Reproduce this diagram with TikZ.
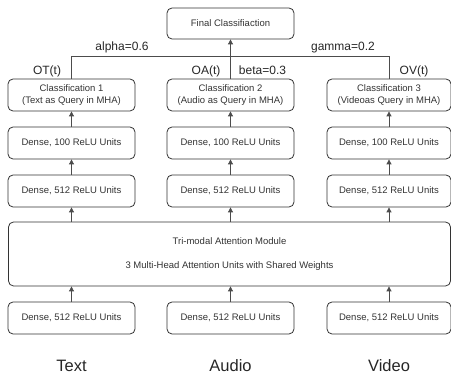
\documentclass[tikz,border=0pt]{standalone}
\usepackage{fontspec}
\setmainfont{Liberation Sans}
\usetikzlibrary{arrows.meta}
\begin{document}
\begin{tikzpicture}[x=1pt,y=-1pt,
  box/.style={draw=black!80, rounded corners=5pt, minimum width=127pt, minimum height=32pt,
    inner sep=0pt, font=\fontsize{9.5}{11.5}\selectfont, text=black!80, align=center, line width=0.8pt},
  rbox/.style={box, minimum width=124pt},
  conn/.style={draw=black!70, line width=0.8pt, -{Triangle[length=5pt,width=5pt]}},
  plain/.style={draw=black!70, line width=0.8pt},
  lab/.style={font=\fontsize{12}{14}\selectfont, text=black!85, inner sep=0pt, anchor=base},
  mod/.style={font=\fontsize{16.5}{19}\selectfont, text=black!85, inner sep=0pt}]
\useasboundingbox (0,0) rectangle (451,377);

% top
\node[box, minimum height=31pt] (fin) at (230.5,23.5) {Final Classifiaction};

% classification row
\node[box] (c1) at (71.5,95) {Classification 1\\(Text as Query in MHA)};
\node[box] (c2) at (230.5,95) {Classification 2\\(Audio as Query in MHA)};
\node[rbox] (c3) at (389,95) {Classification 3\\(Videoas Query in MHA)};

% dense 100
\node[box] (h1) at (71.5,143) {Dense, 100 ReLU Units};
\node[box] (h2) at (230.5,143) {Dense, 100 ReLU Units};
\node[rbox] (h3) at (389,143) {Dense, 100 ReLU Units};

% dense 512 upper
\node[box] (u1) at (71.5,191) {Dense, 512 ReLU Units};
\node[box] (u2) at (230.5,191) {Dense, 512 ReLU Units};
\node[rbox] (u3) at (389,191) {Dense, 512 ReLU Units};

% tri-modal
\node[box, minimum width=442pt, minimum height=64pt] (tri) at (229.5,254)
  {Tri-modal Attention Module\\[12pt]3 Multi-Head Attention Units with Shared Weights};

% bottom dense
\node[box] (b1) at (71.5,318) {Dense, 512 ReLU Units};
\node[box] (b2) at (230.5,318) {Dense, 512 ReLU Units};
\node[rbox] (b3) at (389,318) {Dense, 512 ReLU Units};

% modality labels
\node[mod] (mt) at (71.5,366) {Text};
\node[mod] (ma) at (230.5,366) {Audio};
\node[mod] (mv) at (389,366) {Video};

% connectors
\draw[conn] (b1.north) -- (b1.north |- tri.south);
\draw[conn] (b2.north) -- (b2.north |- tri.south);
\draw[conn] (b3.north) -- (b3.north |- tri.south);
\draw[conn] (u1.south |- tri.north) -- (u1.south);
\draw[conn] (u2.south |- tri.north) -- (u2.south);
\draw[conn] (u3.south |- tri.north) -- (u3.south);
\draw[conn] (u1.north) -- (h1.south);
\draw[conn] (u2.north) -- (h2.south);
\draw[conn] (u3.north) -- (h3.south);
\draw[conn] (h1.north) -- (c1.south);
\draw[conn] (h2.north) -- (c2.south);
\draw[conn] (h3.north) -- (c3.south);

\coordinate (j) at (230.5,56);
\draw[conn] (c2.north) -- (fin.south);
\draw[plain] (c1.north) |- (j);
\draw[plain] (c3.north) |- (j);

% weight labels
\node[lab] (la) at (122,50.5) {alpha=0.6};
\node[lab] (lg) at (343,50.5) {gamma=0.2};
\node[lab] (lot) at (47,74.5) {OT(t)};
\node[lab] (loa) at (206,74.5) {OA(t)};
\node[lab] (lb) at (262.5,74.5) {beta=0.3};
\node[lab] (lov) at (414,74.5) {OV(t)};
\end{tikzpicture}
\end{document}
